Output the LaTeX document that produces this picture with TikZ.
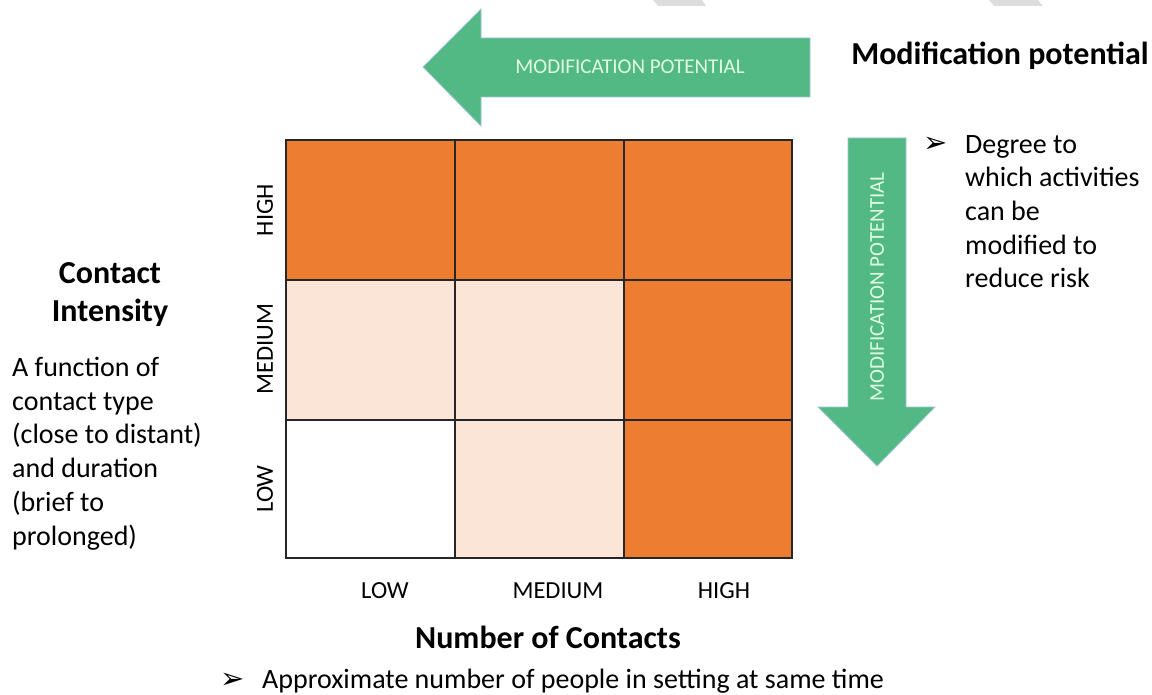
\documentclass[tikz,border=0pt]{standalone}
\usepackage{fontspec}
\setmainfont{Carlito}
\newfontfamily\dingfont{DejaVu Sans}
\usetikzlibrary{positioning}
\definecolor{riskhigh}{RGB}{237,125,49}
\definecolor{riskmed}{RGB}{251,229,214}
\definecolor{modgreen}{RGB}{82,185,132}
\definecolor{modedge}{RGB}{160,195,215}
\definecolor{markgrey}{RGB}{221,221,221}
\tikzset{
  axislabel/.style={font=\fontsize{24.5}{26}\selectfont, inner sep=0pt},
  heading/.style={font=\fontsize{32}{38}\selectfont\bfseries, inner sep=0pt},
  bodytext/.style={font=\fontsize{28}{33.7}\selectfont, align=left, inner sep=0pt},
  bullettext/.style={font=\fontsize{29}{30}\dingfont, inner sep=0pt},
  arrowtext/.style={font=\fontsize{21}{22}\selectfont, text=white!88!green, inner sep=0pt},
  cellline/.style={draw=black!85, line width=1.6pt},
  modarrow/.style={fill=modgreen, draw=modedge, line width=0.8pt}
}

\begin{document}
\begin{tikzpicture}[x=1pt,y=-1pt]
\useasboundingbox (0,0) rectangle (1152,695);
\fill[markgrey] (653,0) -- (702,0) -- (706,6) -- (658,6) -- cycle;
\fill[markgrey] (989,0) -- (1038,0) -- (1043,6) -- (994,6) -- cycle;

\filldraw[modarrow] (423,67) -- (481,9) -- (481,38) -- (810,38) -- (810,97)
  -- (481,97) -- (481,126) -- cycle;
\node[arrowtext] (hmod) at (630,67) {MODIFICATION POTENTIAL};
\node[heading] (modtitle) at (1000,56) {Modification potential};

\filldraw[modarrow] (848,138) -- (906,138) -- (906,407) -- (935,407)
  -- (877,466) -- (818,407) -- (848,407) -- cycle;
\node[arrowtext, rotate=90] (vmod) at (877,287) {MODIFICATION POTENTIAL};

\fill[riskhigh] (286,140) rectangle (792,280);
\fill[riskmed] (286,280) rectangle (624,420);
\fill[riskhigh] (624,280) rectangle (792,558);
\fill[white] (286,420) rectangle (455,558);
\fill[riskmed] (455,420) rectangle (624,558);
\draw[cellline] (286,140) rectangle (792,558);
\draw[cellline] (455,140) -- (455,558);
\draw[cellline] (624,140) -- (624,558);
\draw[cellline] (286,280) -- (792,280);
\draw[cellline] (286,420) -- (792,420);

\node[axislabel, rotate=90] (rowhigh) at (265,210) {HIGH};
\node[axislabel, rotate=90] (rowmed) at (265,349) {MEDIUM};
\node[axislabel, rotate=90] (rowlow) at (265,489) {LOW};
\node[axislabel] (collow) at (385,591) {LOW};
\node[axislabel] (colmed) at (558,591) {MEDIUM};
\node[axislabel] (colhigh) at (724,591) {HIGH};

\node[heading] (numtitle) at (548,637) {Number of Contacts};
\node[bullettext] (numbullet) at (233,681) {➢};
\node[bodytext, anchor=west] (numtext) at (262,681) {Approximate number of people in setting at same time};

\node[heading, align=center] (inttitle) at (110,295) {Contact\\Intensity};
\node[bodytext, anchor=north west] (inttext) at (12,357)
  {A function of\\contact type\\(close to distant)\\and duration\\(brief to\\prolonged)};

\node[bullettext] (degbullet) at (936,145) {➢};
\node[bodytext, anchor=north west] (degtext) at (965,135)
  {Degree to\\which activities\\can be\\modified to\\reduce risk};
\end{tikzpicture}
\end{document}
